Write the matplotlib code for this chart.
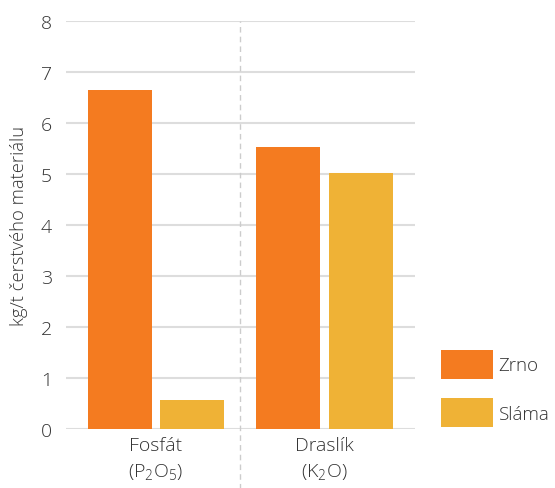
import matplotlib
matplotlib.use("Agg")
import matplotlib.pyplot as plt
import numpy as np

plt.rcParams['font.family'] = ['Open Sans', 'DejaVu Sans']
plt.rcParams['font.weight'] = 'light'
plt.rcParams['axes.labelweight'] = 'light'
plt.rcParams['mathtext.fontset'] = 'custom'
plt.rcParams['mathtext.rm'] = 'Open Sans:light'
plt.rcParams['mathtext.default'] = 'regular'

categories = ["Fosfát\n(P$_2$O$_5$)", "Draslík\n(K$_2$O)"]
series_names = ["Zrno", "Sláma"]
zrno = [6.65, 5.53]
slama = [0.57, 5.02]
yticks = [0, 1, 2, 3, 4, 5, 6, 7, 8]
ylabel = "kg/t čerstvého materiálu"

c_zrno = "#F47B20"
c_slama = "#EFB236"
text_c = "#333333"
grid_c = "#DDDDDD"

fig = plt.figure(figsize=(5.55, 4.89), dpi=100)
ax = fig.add_axes([66/555, 1 - 430/489, (415-66)/555, (430-22)/489])

x = np.arange(len(categories))
w = 0.38
off = 0.214
b1 = ax.bar(x - off, zrno, w, color=c_zrno, label=series_names[0], zorder=3)
b2 = ax.bar(x + off, slama, w, color=c_slama, label=series_names[1], zorder=3)

ax.set_xlim(-0.534, 1.537)
ax.set_ylim(0, 8)
ax.set_yticks(yticks)
ax.set_yticklabels([str(t) for t in yticks])
for t in yticks:
    ax.axhline(t, color=grid_c, lw=1.5, zorder=1)

ax.axvline(0.5, ymin=-0.16, ymax=1.0, color="#CCCCCC", lw=1, ls=(0, (4, 3)), clip_on=False, zorder=1)

ax.set_xticks(x)
ax.set_xticklabels(categories, fontsize=14, color=text_c, linespacing=1.45)
ax.tick_params(axis='both', length=0, colors=text_c)
ax.tick_params(axis='y', labelsize=14, pad=10)
ax.tick_params(axis='x', pad=5)
for s in ax.spines.values():
    s.set_visible(False)

ax.set_ylabel(ylabel, fontsize=13.2, color=text_c, labelpad=9, fontweight='light')

leg = ax.legend(handles=[b1, b2], loc='upper left', bbox_to_anchor=(433/555, 1 - 343/489),
                bbox_transform=fig.transFigure, frameon=False, fontsize=13.5,
                handlelength=2.8, handleheight=2.02, labelspacing=1.04, handletextpad=0.3,
                borderaxespad=0)
for t in leg.get_texts():
    t.set_color(text_c)

fig.savefig("out.png", dpi=100)
